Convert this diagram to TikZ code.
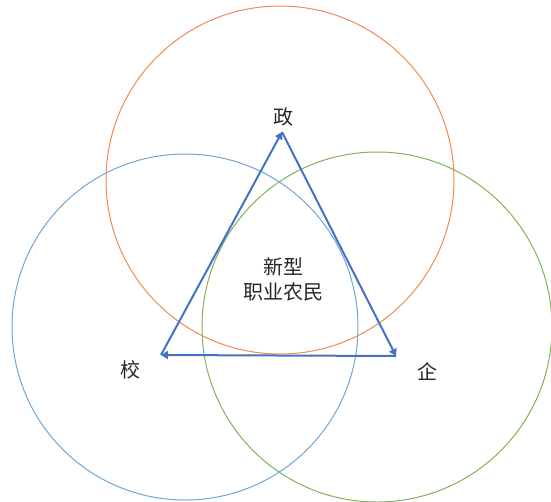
\documentclass[tikz,border=0pt]{standalone}
\usepackage{fontspec}
\newfontfamily\cjk{Noto Sans CJK SC}
\usetikzlibrary{arrows.meta}
\definecolor{corange}{HTML}{F08A50}
\definecolor{cblue}{HTML}{6FA6D8}
\definecolor{cgreen}{HTML}{7FB25A}
\definecolor{ctri}{HTML}{4472C4}
\begin{document}
\begin{tikzpicture}[x=1pt,y=-1pt,
  ring/.style={line width=1pt},
  edge/.style={ctri,line width=2pt,-{Triangle[length=7pt,width=8pt]}},
  lbl/.style={font=\cjk\fontsize{20}{23}\selectfont,text=black!85,inner sep=0pt}]
\useasboundingbox (0,0) rectangle (551,501);
\begin{scope}
\clip (0,0) rectangle (551,501);
\draw[ring,corange] (280,180) circle[radius=174];
\draw[ring,cblue] (185,327) circle[radius=173];
\draw[ring,cgreen] (377,327) circle[radius=175];
\end{scope}
\coordinate (A) at (282,132);
\coordinate (L) at (161,355);
\coordinate (R) at (396,356);
\draw[edge] (L) -- (A);
\draw[edge] (A) -- (R);
\draw[edge] (R) -- (L);
\node[lbl] (zheng) at (283,117) {政};
\node[lbl] (xiao) at (130,370) {校};
\node[lbl] (qi) at (427,372) {企};
\node[lbl,align=center] (center) at (283,279) {新型\\[2pt]职业农民};
\end{tikzpicture}
\end{document}
